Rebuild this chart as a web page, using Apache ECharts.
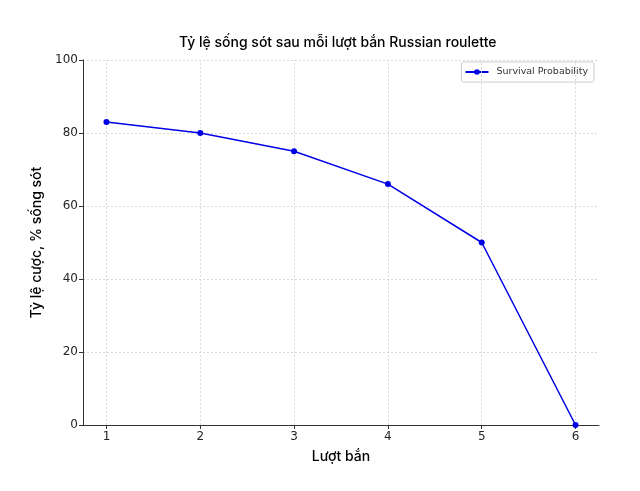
<!DOCTYPE html>
<html><head><meta charset="utf-8">
<script src="https://cdn.jsdelivr.net/npm/echarts@6/dist/echarts.min.js"></script>
<style>html,body{margin:0;padding:0;background:#fff}#c{width:640px;height:491px}</style>
</head><body><div id="c"></div>
<script>
const rounds = [1, 2, 3, 4, 5, 6];
const survival = [83, 80, 75, 66, 50, 0];
const yTicks = [0, 20, 40, 60, 80, 100];
const seriesName = 'Survival Probability';
const titleText = 'Tỷ lệ sống sót sau mỗi lượt bắn Russian roulette';
const xName = 'Lượt bắn';
const yName = 'Tỷ lệ cược, % sống sót';

const chart = echarts.init(document.getElementById('c'));
const tickFont = {fontFamily: 'DejaVu Sans', fontSize: 12, color: '#262626'};
chart.setOption({
  animation: false,
  title: {text: titleText, left: 174, top: 31,
    textStyle: {fontFamily: 'Inter', fontSize: 14, fontWeight: 500, color: '#000'}},
  legend: {data: [{name: seriesName}], right: 46, top: 62, orient: 'vertical',
    borderColor: '#cccccc', borderWidth: 1, borderRadius: 2, padding: [5, 6, 5, 3],
    itemWidth: 23, itemHeight: 7, itemGap: 6,
    textStyle: {fontFamily: 'DejaVu Sans', fontSize: 9.5, color: '#333', padding: [0, 0, 0, 3]}},
  grid: {left: 83, right: 41, top: 60, bottom: 66, containLabel: false},
  xAxis: {type: 'value', min: 0.75, max: 6.25,
    name: xName, nameLocation: 'middle', nameGap: 25,
    nameTextStyle: {fontFamily: 'Inter', fontSize: 14, fontWeight: 500, color: '#000'},
    axisLine: {show: true, lineStyle: {color: '#333', width: 1}},
    axisTick: {show: true, customValues: rounds, length: 4, lineStyle: {color: '#333'}},
    axisLabel: {customValues: rounds, margin: 6, ...tickFont},
    splitLine: {show: false}},
  yAxis: {type: 'value', min: 0, max: 100, interval: 20,
    name: yName, nameLocation: 'middle', nameGap: 33, nameRotate: 90,
    nameTextStyle: {fontFamily: 'Inter', fontSize: 14, fontWeight: 500, color: '#000'},
    axisLine: {show: true, lineStyle: {color: '#333', width: 1}},
    axisTick: {show: true, length: 4, lineStyle: {color: '#333'}},
    axisLabel: {margin: 5, ...tickFont},
    splitLine: {show: true, lineStyle: {color: '#d0d0d0', type: [2, 2], width: 0.8}}},
  series: [
    {name: seriesName, type: 'line', data: rounds.map((r, i) => [r, survival[i]]),
     symbol: 'circle', symbolSize: 6, color: '#0000e6',
     lineStyle: {width: 1.5, color: '#0000e6'}, itemStyle: {color: '#0000e6'},
     clip: false, z: 5,
     markLine: {silent: true, symbol: 'none', label: {show: false},
       lineStyle: {color: '#d0d0d0', type: [2, 2], width: 0.8},
       data: rounds.map(r => ({xAxis: r}))}}
  ]
});
</script></body></html>
